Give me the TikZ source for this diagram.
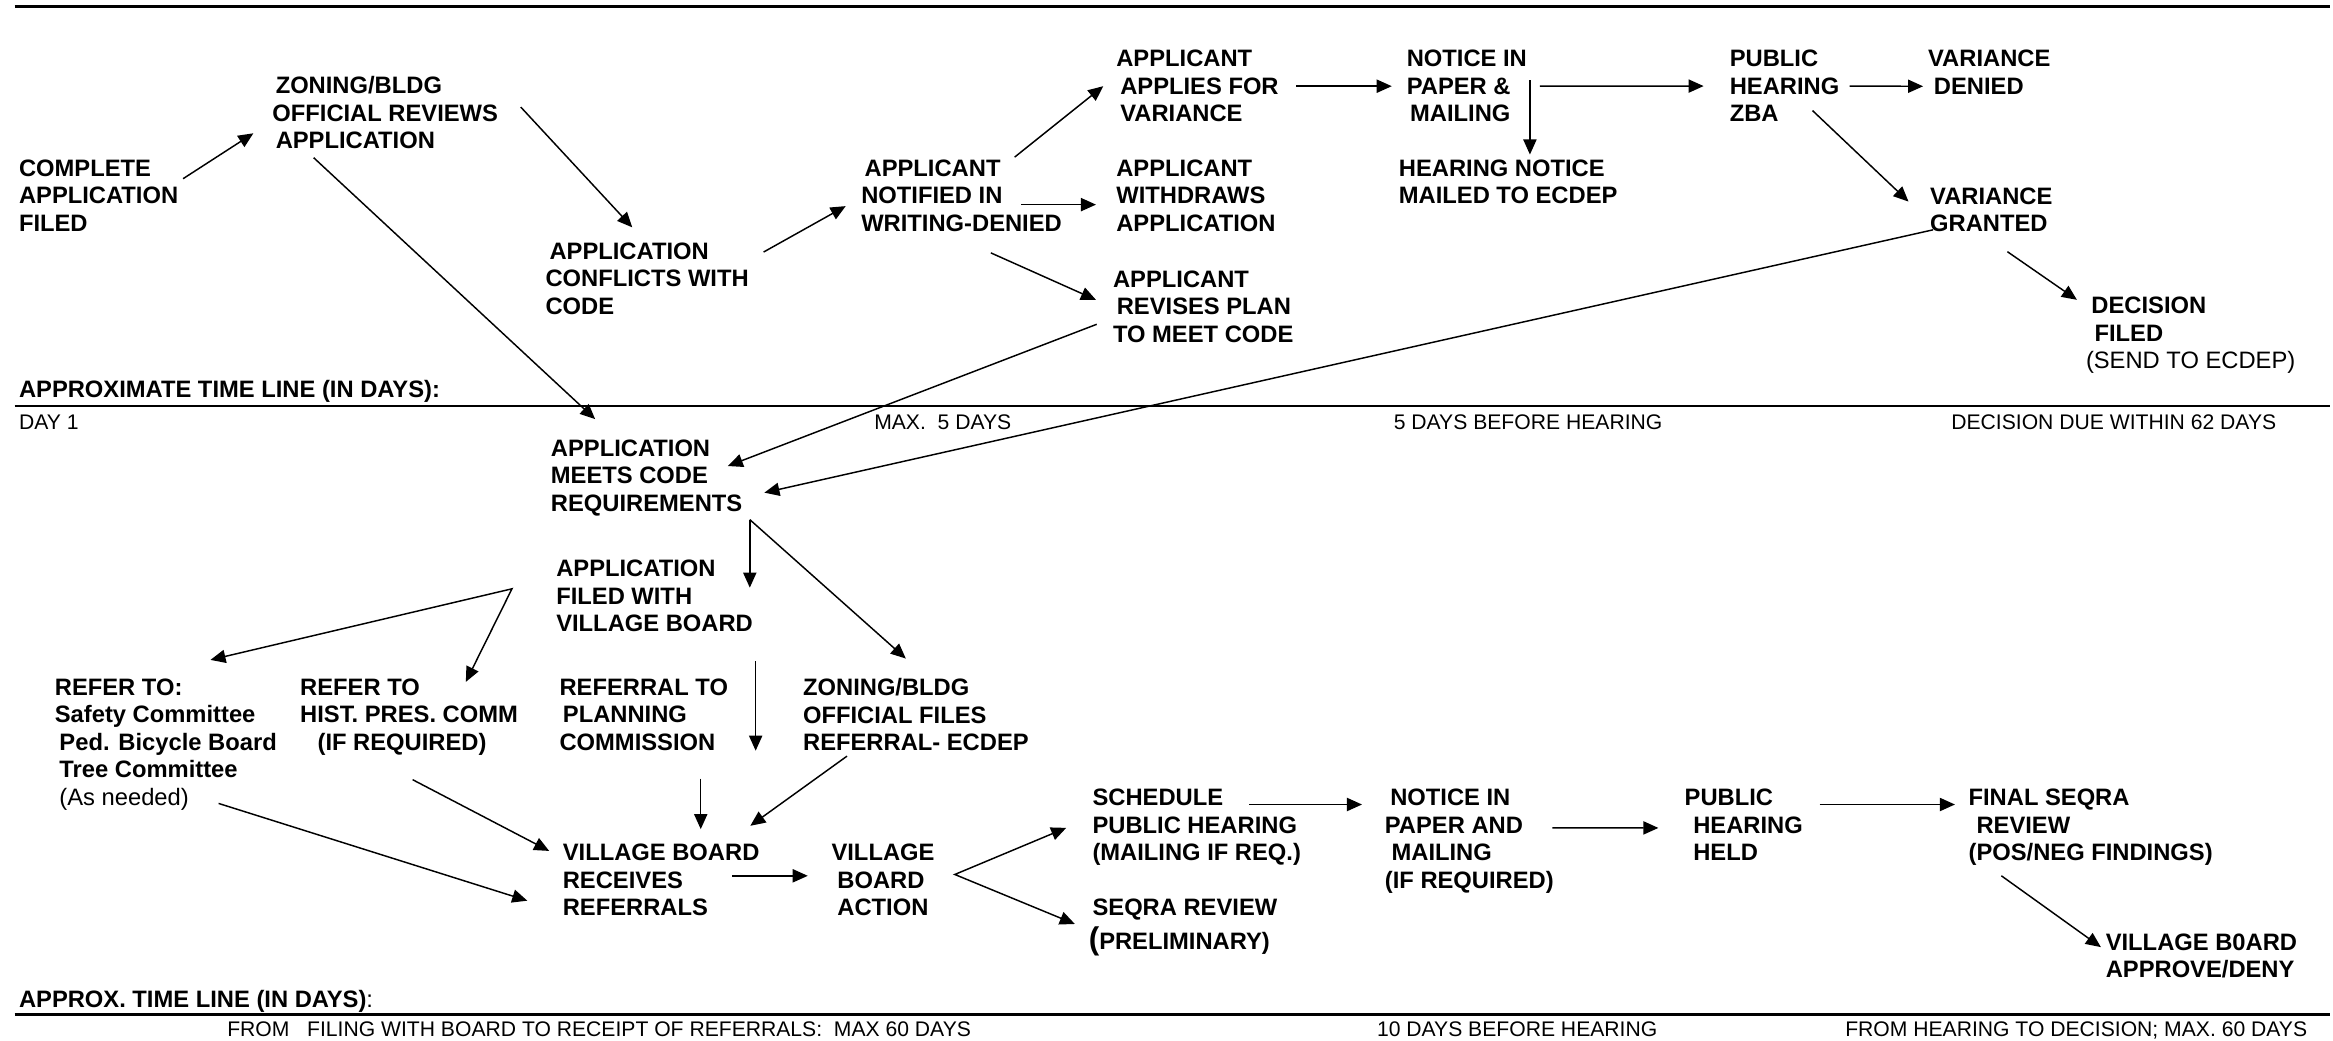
\documentclass[tikz,border=0pt]{standalone}
\usepackage{fontspec}
\setmainfont{Liberation Sans}
\usetikzlibrary{arrows.meta}
\newcommand\indt[1]{\hspace*{#1pt}}

\begin{document}
\begin{tikzpicture}[
x=0.025cm, y=-0.025cm,
box/.style={anchor=north west, inner sep=0pt, align=left,
	font=\fontsize{11.35}{13.15}\selectfont\bfseries},
note/.style={anchor=base west, inner sep=0pt,
	font=\fontsize{10.1}{12}\selectfont},
arr/.style={-{Triangle[length=7.2pt,width=6.3pt]}, line width=0.7pt},
twoarr/.style={{Triangle[length=7.2pt,width=6.3pt]}-{Triangle[length=7.2pt,width=6.3pt]}, line width=0.7pt},
timebar/.style={line width=1.2pt}
]
\useasboundingbox (0,0) rectangle (1568,699);

% rules
\draw[timebar] (9.8,4.5) -- (1566,4.5);
\draw[timebar] (9.8,272.8) -- (1566,272.8);
\draw[timebar] (9.8,682) -- (1566,682);

% variance path
\node[box] (filed) at (12.5,107.1) {COMPLETE\\APPLICATION\\FILED};
\node[box] (review) at (182.8,51.3) {\indt{1.6}ZONING/BLDG\\OFFICIAL REVIEWS\\\indt{1.6}APPLICATION};
\node[box] (conflict) at (366.4,162.8) {\indt{1.9}APPLICATION\\CONFLICTS WITH\\CODE};
\node[box] (notified) at (578.6,107.1) {\indt{1.6}APPLICANT\\NOTIFIED IN\\WRITING-DENIED};
\node[box] (applies) at (750,33.5) {APPLICANT\\\indt{1.9}APPLIES FOR\\\indt{1.9}VARIANCE};
\node[box] (withdraws) at (750,107.1) {APPLICANT\\WITHDRAWS\\APPLICATION};
\node[box] (revises) at (747.8,181.5) {APPLICANT\\\indt{1.8}REVISES PLAN\\TO MEET CODE};
\node[box] (notice) at (945.2,33.5) {NOTICE IN\\PAPER \&\\\indt{1.6}MAILING};
\node[box] (hnotice) at (939.9,107.1) {HEARING NOTICE\\MAILED TO ECDEP};
\node[box] (zba) at (1162.3,33.5) {PUBLIC\\HEARING\\ZBA};
\node[box] (denied) at (1295.6,33.5) {VARIANCE\\\indt{2.8}DENIED};
\node[box] (granted) at (1297,125.8) {VARIANCE\\GRANTED};
\node[box] (decision) at (1401.7,199.3) {\indt{2.6}DECISION\\\indt{4.1}FILED\\\mdseries(SEND TO ECDEP)};

\node[box, anchor=base west] (tline) at (12.5,267.4) {APPROXIMATE TIME LINE (IN DAYS):};
\node[note] (day1) at (12.5,288.4) {DAY 1};
\node[note] (max5) at (587.3,288.4) {MAX.\ \ 5 DAYS};
\node[note] (before5) at (936.5,288.4) {5 DAYS BEFORE HEARING};
\node[note] (due62) at (1311.2,288.4) {DECISION DUE WITHIN 62 DAYS};

% village board path
\node[box] (meets) at (370,295.2) {APPLICATION\\MEETS CODE\\REQUIREMENTS};
\node[box] (fwith) at (373.6,376.3) {APPLICATION\\FILED WITH\\VILLAGE BOARD};
\node[box] (refer) at (36.6,455.7) {REFER TO:\\Safety Committee\\\indt{2.2}Ped. Bicycle Board\\\indt{2.2}Tree Committee\\\indt{2.2}\mdseries(As needed)};
\node[box] (hist) at (201.5,455.7) {REFER TO\\HIST. PRES. COMM\\\indt{8.3}(IF REQUIRED)};
\node[box] (plan) at (375.8,455.7) {REFERRAL TO\\\indt{1.6}PLANNING\\COMMISSION};
\node[box] (zfiles) at (539.5,455.7) {ZONING/BLDG\\OFFICIAL FILES\\REFERRAL- ECDEP};
\node[box] (receives) at (378,567.1) {VILLAGE BOARD\\RECEIVES\\REFERRALS};
\node[box] (action) at (558.6,567.1) {VILLAGE\\\indt{2.8}BOARD\\\indt{2.8}ACTION};
\node[box] (schedule) at (734,530.1) {SCHEDULE\\PUBLIC HEARING\\(MAILING IF REQ.)};
\node[box] (seqra) at (731.5,604.1) {\indt{1.8}SEQRA REVIEW\\[3pt]{\fontsize{15}{15}\selectfont(}PRELIMINARY)};
\node[box] (notice2) at (930.5,530.1) {\indt{2.6}NOTICE IN\\PAPER AND\\\indt{3.2}MAILING\\(IF REQUIRED)};
\node[box] (held) at (1132,530.1) {PUBLIC\\\indt{4.1}HEARING\\\indt{4.1}HELD};
\node[box] (final) at (1322.8,530.1) {FINAL SEQRA\\\indt{3.8}REVIEW\\(POS/NEG FINDINGS)};
\node[box] (vboard) at (1415,627.3) {VILLAGE B0ARD\\APPROVE/DENY};

\node[box, anchor=base west] (tline2) at (12.5,677) {APPROX. TIME LINE (IN DAYS)\mdseries:};
\node[note] (fromfiling) at (152.5,696.9) {FROM\ \ \ FILING WITH BOARD TO RECEIPT OF REFERRALS:\ \ MAX 60 DAYS};
\node[note] (before10) at (925.2,696.9) {10 DAYS BEFORE HEARING};
\node[note] (fromhearing) at (1239.9,696.9) {FROM HEARING TO DECISION; MAX. 60 DAYS};

% upper arrows
\draw[arr] ([shift={(3,13)}]filed.north east) -- ([shift={(-12.5,-11)}]review.south west);
\draw[arr] ([shift={(15,-4)}]review.east) -- ([shift={(-10,-10)}]conflict.north);
\draw[arr] ([shift={(28,5.4)}]review.south west) -- ([shift={(30,-13.5)}]meets.north west);
\draw[arr] ([shift={(9.7,6.6)}]conflict.north east) -- ([shift={(-10.2,7)}]notified.west);
\draw[arr] ([shift={(-32,-1.5)}]notified.north east) -- ([shift={(-8.5,0)}]applies.west);
\draw[arr] ([shift={(-27.6,6)}]notified.east) -- ([shift={(-13.4,6)}]withdraws.west);
\draw[arr] ([shift={(-48,14)}]notified.south east) -- ([shift={(-11.2,-4.4)}]revises.west);
\draw[arr] ([shift={(-10.7,-12.4)}]revises.south west) -- ([shift={(-10,-7.9)}]meets.east);
\draw[arr] ([shift={(11.4,0)}]applies.east) -- ([shift={(-9.8,0)}]notice.west);
\draw[arr] ([shift={(8.5,0)}]notice.east) -- ([shift={(-17.3,0)}]zba.west);
\coordinate (drop) at ([shift={(1.8,-4)}]notice.east);
\draw[arr, shorten >=2.3pt] (drop) -- (drop |- hnotice.north);
\draw[arr] ([shift={(6.7,0)}]zba.east) -- ([shift={(-3.1,-5.7)}]denied.south west);
\draw[arr] ([shift={(-18.3,-7.9)}]zba.south east) -- ([shift={(-14.3,-5.5)}]granted.west);
\draw[arr] ([shift={(2.2,-1.7)}]granted.south west) -- ([shift={(14.6,10)}]meets.east);
\draw[arr] ([shift={(10.8,13)}]granted.south) -- ([shift={(-5.8,2.2)}]decision.north west);

% lower arrows
\coordinate (m1) at ([shift={(4.8,2.2)}]meets.south east);
\draw[arr, shorten >=4.1pt] (m1) -- (m1 |- fwith.east);
\draw[arr] (m1) -- ([shift={(-6.8,-13.1)}]zfiles.north);
\coordinate (fork) at ([shift={(-29.5,-5)}]fwith.west);
\draw[twoarr] ([shift={(30,-12.2)}]refer.north) -- (fork) -- ([shift={(-35.3,2.6)}]hist.north east);
\coordinate (f1) at ([shift={(1.6,19.2)}]fwith.south east);
\draw[arr] (f1) -- (f1 |- plan.south);
\coordinate (p1) at ([shift={(-18.6,18.8)}]plan.south east);
\draw[arr, shorten >=7pt] (p1) -- (p1 |- receives.north);
\draw[arr] ([shift={(29.8,3.2)}]zfiles.south west) -- ([shift={(-6.4,-12.1)}]receives.north east);
\draw[arr] ([shift={(75.8,16.3)}]hist.south west) -- ([shift={(-8.9,4.8)}]receives.north west);
\draw[arr] ([shift={(-39.4,-4.7)}]refer.south east) -- ([shift={(-23.6,-10.6)}]receives.south west);
\draw[arr] ([shift={(-18.4,-2.9)}]receives.east) -- ([shift={(-15.7,-2.9)}]action.west);
\coordinate (split) at ([shift={(13.4,-3.8)}]action.east);
\draw[twoarr] ([shift={(-17.4,0.3)}]schedule.west) -- (split) -- ([shift={(-9.1,16.9)}]seqra.north west);
\draw[arr] ([shift={(105.6,10.6)}]schedule.north west) -- ([shift={(-15.1,10.6)}]notice2.north west);
\draw[arr] ([shift={(-1.2,-9)}]notice2.east) -- ([shift={(-17.4,2)}]held.west);
\draw[arr] ([shift={(11.1,10.6)}]held.north east) -- ([shift={(-8.9,10.6)}]final.north west);
\draw[arr] ([shift={(22.3,6.5)}]final.south west) -- ([shift={(-3,-6)}]vboard.west);
\end{tikzpicture}
\end{document}
